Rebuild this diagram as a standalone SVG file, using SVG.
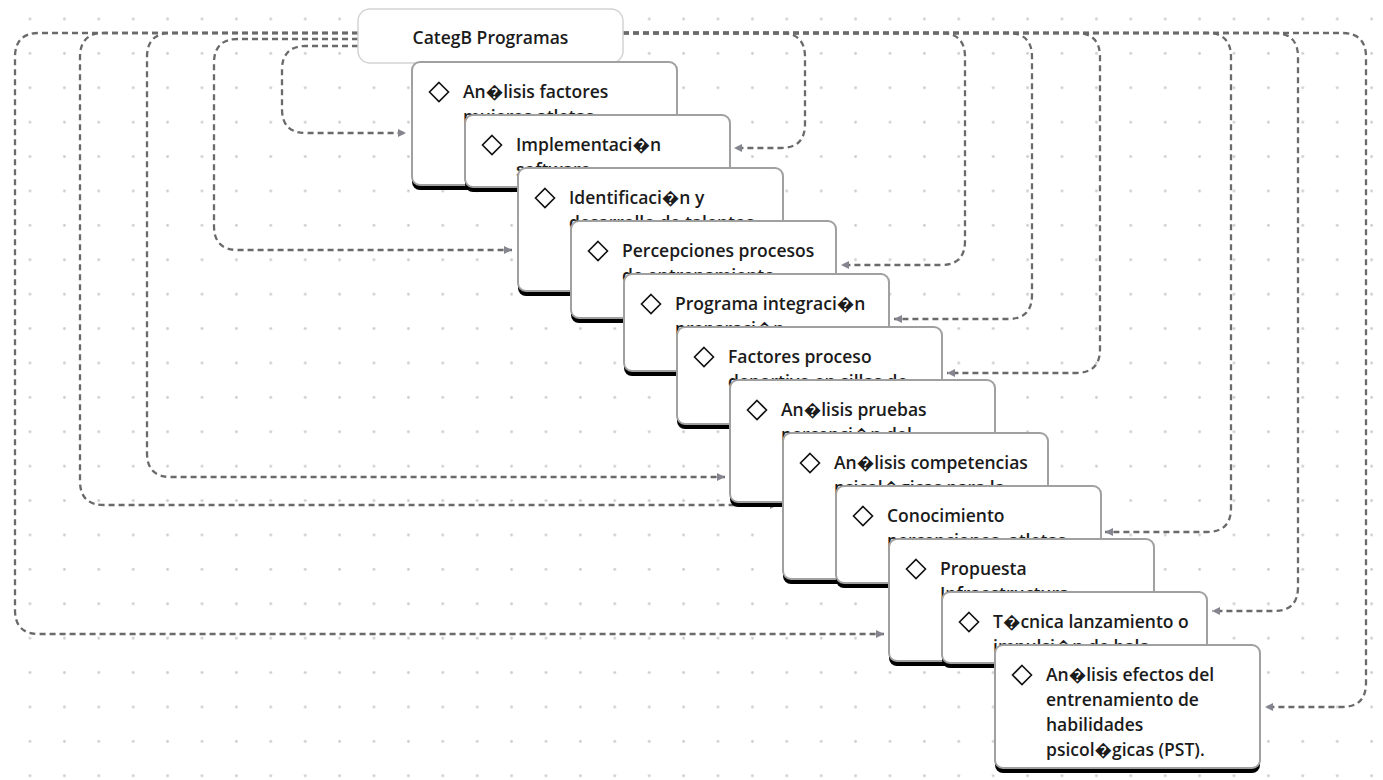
<svg xmlns="http://www.w3.org/2000/svg" width="1383" height="780" viewBox="0 0 1383 780">
<defs>
<pattern id="dots" x="12.8" y="1.8" width="34.4" height="34.4" patternUnits="userSpaceOnUse"><circle cx="17.2" cy="17.2" r="1.4" fill="#cdcdcd"/></pattern>
<marker id="arr" viewBox="0 0 10 10" refX="10" refY="5" markerWidth="8" markerHeight="8" markerUnits="userSpaceOnUse" orient="auto"><path d="M0,0 L10,5 L0,10 Z" fill="#85858f"/></marker>
<path id="dia" d="M0,-9.5 L9.5,0 L0,9.5 L-9.5,0 Z"/>
</defs>
<style>
.conn path { fill:none; stroke:#6a6a6a; stroke-width:2.3; stroke-dasharray:6 4; marker-end:url(#arr); }
.card .sh { fill:#000; }
.card .bd { fill:#fff; stroke:#a0a0a0; stroke-width:2; }
text { font-family:"Open Sans","Noto Sans","DejaVu Sans",sans-serif; font-weight:600; font-size:17.5px; fill:#1b1b1b; }
.icon { fill:#fff; stroke:#111; stroke-width:1.6; }
.root rect { fill:#fff; stroke:#d4d4d4; stroke-width:1.5; }
</style>
<rect width="1383" height="780" fill="#fff"/>
<rect width="1383" height="780" fill="url(#dots)"/>

<g id="connectors" class="conn">
<path d="M358,46 H306 Q282,46 282,70 V109 Q282,133 306,133 H406"/>
<path d="M358,39 H238 Q214,39 214,63 V226 Q214,250 238,250 H512"/>
<path d="M358,33 H171 Q147,33 147,57 V453 Q147,477 171,477 H725"/>
<path d="M358,33 H104 Q80,33 80,57 V481 Q80,505 104,505 H778"/>
<path d="M358,33 H39 Q15,33 15,57 V610 Q15,634 39,634 H884"/>
<path d="M623,33 H781 Q805,33 805,57 V124 Q805,148 781,148 H734"/>
<path d="M623,33 H941 Q965,33 965,57 V241 Q965,265 941,265 H841"/>
<path d="M623,33 H1008 Q1032,33 1032,57 V295 Q1032,319 1008,319 H894"/>
<path d="M623,33 H1076 Q1100,33 1100,57 V349 Q1100,373 1076,373 H947"/>
<path d="M623,33 H1207 Q1231,33 1231,57 V508 Q1231,532 1207,532 H1105"/>
<path d="M623,33 H1274 Q1298,33 1298,57 V587 Q1298,611 1274,611 H1212"/>
<path d="M623,33 H1342 Q1366,33 1366,57 V683 Q1366,707 1342,707 H1265"/>
</g>

<g id="root" class="root">
<rect x="358" y="9" width="265" height="54" rx="12"/>
<text x="490.5" y="44" text-anchor="middle">CategB Programas</text>
</g>

<g id="n1" class="card" transform="translate(412,62)">
<rect class="sh" x="0" y="5" width="265" height="123" rx="8"/>
<rect class="bd" x="0" y="0" width="265" height="123" rx="8"/>
<use href="#dia" class="icon" x="27" y="30"/>
<text x="51" y="36">An�lisis factores</text>
<text x="51" y="61">mujeres atletas</text>
</g>
<g id="n2" class="card" transform="translate(465,115)">
<rect class="sh" x="0" y="5" width="265" height="72" rx="8"/>
<rect class="bd" x="0" y="0" width="265" height="72" rx="8"/>
<use href="#dia" class="icon" x="27" y="30"/>
<text x="51" y="36">Implementaci�n</text>
<text x="51" y="61">software</text>
</g>
<g id="n3" class="card" transform="translate(518,168)">
<rect class="sh" x="0" y="5" width="265" height="123" rx="8"/>
<rect class="bd" x="0" y="0" width="265" height="123" rx="8"/>
<use href="#dia" class="icon" x="27" y="30"/>
<text x="51" y="36">Identificaci�n y</text>
<text x="51" y="61">desarrollo de talentos</text>
</g>
<g id="n4" class="card" transform="translate(571,221)">
<rect class="sh" x="0" y="5" width="265" height="97" rx="8"/>
<rect class="bd" x="0" y="0" width="265" height="97" rx="8"/>
<use href="#dia" class="icon" x="27" y="30"/>
<text x="51" y="36">Percepciones procesos</text>
<text x="51" y="61">de entrenamiento</text>
</g>
<g id="n5" class="card" transform="translate(624,274)">
<rect class="sh" x="0" y="5" width="265" height="97" rx="8"/>
<rect class="bd" x="0" y="0" width="265" height="97" rx="8"/>
<use href="#dia" class="icon" x="27" y="30"/>
<text x="51" y="36">Programa integraci�n</text>
<text x="51" y="61">preparaci�n</text>
</g>
<g id="n6" class="card" transform="translate(677,327)">
<rect class="sh" x="0" y="5" width="265" height="97" rx="8"/>
<rect class="bd" x="0" y="0" width="265" height="97" rx="8"/>
<use href="#dia" class="icon" x="27" y="30"/>
<text x="51" y="36">Factores proceso</text>
<text x="51" y="61">deportivo en sillas de</text>
</g>
<g id="n7" class="card" transform="translate(730,380)">
<rect class="sh" x="0" y="5" width="265" height="122" rx="8"/>
<rect class="bd" x="0" y="0" width="265" height="122" rx="8"/>
<use href="#dia" class="icon" x="27" y="30"/>
<text x="51" y="36">An�lisis pruebas</text>
<text x="51" y="61">percepci�n del</text>
</g>
<g id="n8" class="card" transform="translate(783,433)">
<rect class="sh" x="0" y="5" width="265" height="146" rx="8"/>
<rect class="bd" x="0" y="0" width="265" height="146" rx="8"/>
<use href="#dia" class="icon" x="27" y="30"/>
<text x="51" y="36">An�lisis competencias</text>
<text x="51" y="61">psicol�gicas para la</text>
</g>
<g id="n9" class="card" transform="translate(836,486)">
<rect class="sh" x="0" y="5" width="265" height="97" rx="8"/>
<rect class="bd" x="0" y="0" width="265" height="97" rx="8"/>
<use href="#dia" class="icon" x="27" y="30"/>
<text x="51" y="36">Conocimiento</text>
<text x="51" y="61">percepciones, atletas</text>
</g>
<g id="n10" class="card" transform="translate(889,539)">
<rect class="sh" x="0" y="5" width="265" height="122" rx="8"/>
<rect class="bd" x="0" y="0" width="265" height="122" rx="8"/>
<use href="#dia" class="icon" x="27" y="30"/>
<text x="51" y="36">Propuesta</text>
<text x="51" y="61">Infraestructura</text>
</g>
<g id="n11" class="card" transform="translate(942,592)">
<rect class="sh" x="0" y="5" width="265" height="71" rx="8"/>
<rect class="bd" x="0" y="0" width="265" height="71" rx="8"/>
<use href="#dia" class="icon" x="27" y="30"/>
<text x="51" y="36">T�cnica lanzamiento o</text>
<text x="51" y="61">impulsi�n de bala</text>
</g>
<g id="n12" class="card" transform="translate(995,645)">
<rect class="sh" x="0" y="5" width="265" height="123" rx="8"/>
<rect class="bd" x="0" y="0" width="265" height="123" rx="8"/>
<use href="#dia" class="icon" x="27" y="30"/>
<text x="51" y="36">An�lisis efectos del</text>
<text x="51" y="61">entrenamiento de</text>
<text x="51" y="86">habilidades</text>
<text x="51" y="111">psicol�gicas (PST).</text>
</g>
</svg>
